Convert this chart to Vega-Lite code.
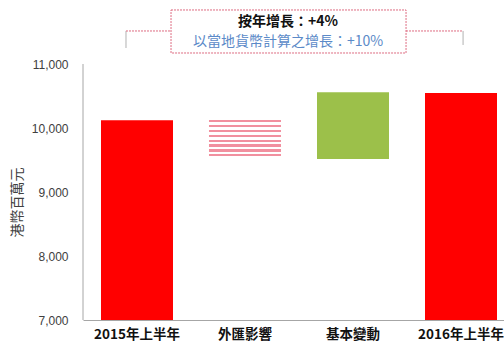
{
  "$schema": "https://vega.github.io/schema/vega-lite/v6.json",
  "width": 421,
  "height": 320,
  "autosize": {"type": "none"},
  "padding": {"left": 83, "top": 0, "right": 0, "bottom": 24},
  "background": "white",
  "config": {"view": {"stroke": null}},
  "layer": [
    {
      "data": {"values": [
        {"cat": "2015年上半年", "v": 10120, "v2": 0, "kind": "total"},
        {"cat": "外匯影響", "v": 10150, "v2": 9515, "kind": "fx"},
        {"cat": "基本變動", "v": 10560, "v2": 9515, "kind": "basic"},
        {"cat": "2016年上半年", "v": 10545, "v2": 0, "kind": "total"}
      ]},
      "encoding": {
        "x": {
          "field": "cat", "type": "nominal",
          "sort": ["2015年上半年", "外匯影響", "基本變動", "2016年上半年"],
          "scale": {"paddingInner": 0.3333, "paddingOuter": 0.1157, "align": 0.72},
          "axis": {
            "title": null, "labelAngle": 0, "ticks": false,
            "labelFont": "Noto Sans CJK TC", "labelFontSize": 13.5, "labelFontWeight": "bold",
            "labelColor": "#111111", "labelPadding": 7,
            "domainColor": "#a6a6a6", "domainWidth": 1
          }
        },
        "y": {
          "field": "v", "type": "quantitative",
          "scale": {"domain": [7000, 12000], "nice": false, "zero": false},
          "axis": {
            "values": [7000, 8000, 9000, 10000, 11000],
            "labelExpr": "format(datum.value, ',')",
            "grid": false, "ticks": false, "domain": false,
            "labelFont": "Liberation Sans", "labelFontSize": 12, "labelColor": "#404040",
            "labelPadding": 15,
            "title": "港幣百萬元", "titleFont": "Noto Sans CJK TC", "titleFontSize": 14,
            "titleFontWeight": "normal", "titleColor": "#404040",
            "titleAngle": -90, "titleX": -66, "titleY": 202,
            "titleAlign": "center", "titleBaseline": "middle"
          }
        },
        "y2": {"field": "v2"}
      },
      "layer": [
        {
          "transform": [{"filter": "datum.kind !== 'fx'"}],
          "mark": {"type": "bar", "clip": true},
          "encoding": {
            "color": {
              "field": "kind", "type": "nominal",
              "scale": {"domain": ["total", "basic"], "range": ["#ff0000", "#9cc04a"]},
              "legend": null
            }
          }
        },
        {
          "transform": [{"filter": "datum.kind === 'fx'"}],
          "mark": {
            "type": "bar", "clip": true,
            "color": {
              "gradient": "linear", "x1": 0, "y1": 0, "x2": 0, "y2": 1,
              "stops": [
                {"offset": 0, "color": "#ffffff"},
                {"offset": 0.04, "color": "#ffffff"},
                {"offset": 0.04, "color": "#f1909f"},
                {"offset": 0.095, "color": "#f1909f"},
                {"offset": 0.095, "color": "#ffffff"},
                {"offset": 0.16, "color": "#ffffff"},
                {"offset": 0.16, "color": "#f1909f"},
                {"offset": 0.215, "color": "#f1909f"},
                {"offset": 0.215, "color": "#ffffff"},
                {"offset": 0.28, "color": "#ffffff"},
                {"offset": 0.28, "color": "#f1909f"},
                {"offset": 0.335, "color": "#f1909f"},
                {"offset": 0.335, "color": "#ffffff"},
                {"offset": 0.40, "color": "#ffffff"},
                {"offset": 0.40, "color": "#f1909f"},
                {"offset": 0.455, "color": "#f1909f"},
                {"offset": 0.455, "color": "#ffffff"},
                {"offset": 0.52, "color": "#ffffff"},
                {"offset": 0.52, "color": "#f1909f"},
                {"offset": 0.575, "color": "#f1909f"},
                {"offset": 0.575, "color": "#ffffff"},
                {"offset": 0.64, "color": "#ffffff"},
                {"offset": 0.64, "color": "#f1909f"},
                {"offset": 0.695, "color": "#f1909f"},
                {"offset": 0.695, "color": "#ffffff"},
                {"offset": 0.76, "color": "#ffffff"},
                {"offset": 0.76, "color": "#f1909f"},
                {"offset": 0.815, "color": "#f1909f"},
                {"offset": 0.815, "color": "#ffffff"},
                {"offset": 0.88, "color": "#ffffff"},
                {"offset": 0.88, "color": "#f1909f"},
                {"offset": 0.935, "color": "#f1909f"},
                {"offset": 0.935, "color": "#ffffff"},
                {"offset": 1, "color": "#ffffff"}
              ]
            }
          }
        }
      ]
    },
    {
      "data": {"values": [
        {"part": "axis", "p": 0, "p2": 0, "v": 7000, "v2": 11000},
        {"part": "bracketL", "p": 0.398, "p2": 0.398, "v": 11516, "v2": 11250},
        {"part": "bracketHL", "p": 0.398, "p2": 0.815, "v": 11516, "v2": 11516},
        {"part": "bracketHR", "p": 2.991, "p2": 3.519, "v": 11516, "v2": 11516},
        {"part": "bracketR", "p": 3.519, "p2": 3.519, "v": 11516, "v2": 11297}
      ]},
      "mark": {"type": "rule", "strokeWidth": 1},
      "encoding": {
        "x": {"field": "p", "type": "quantitative", "scale": {"domain": [0, 3.898], "nice": false, "zero": false}, "axis": null},
        "x2": {"field": "p2"},
        "y": {"field": "v", "type": "quantitative", "scale": {"domain": [7000, 12000], "nice": false, "zero": false}},
        "y2": {"field": "v2"},
        "color": {
          "field": "part", "type": "nominal", "legend": null,
          "scale": {"domain": ["axis", "bracketL", "bracketHL", "bracketHR", "bracketR"],
                    "range": ["#a6a6a6", "#b0b0b0", "#dd6b80", "#dd6b80", "#b0b0b0"]}
        },
        "strokeDash": {
          "field": "part", "type": "nominal", "legend": null,
          "scale": {"domain": ["axis", "bracketL", "bracketHL", "bracketHR", "bracketR"],
                    "range": [[1, 0], [1, 0], [2, 1], [2, 1], [1, 0]]}
        }
      }
    },
    {
      "data": {"values": [{"p": 0.815, "p2": 2.991, "v": 11844, "v2": 11172}]},
      "mark": {"type": "rect", "fill": "white", "fillOpacity": 0, "stroke": "#dd6b80", "strokeWidth": 1, "strokeDash": [2, 1]},
      "encoding": {
        "x": {"field": "p", "type": "quantitative", "scale": {"domain": [0, 3.898], "nice": false, "zero": false}, "axis": null},
        "x2": {"field": "p2"},
        "y": {"field": "v", "type": "quantitative", "scale": {"domain": [7000, 12000], "nice": false, "zero": false}},
        "y2": {"field": "v2"}
      }
    },
    {
      "data": {"values": [
        {"p": 1.898, "v": 11656, "label": "按年增長：+4%"}
      ]},
      "mark": {"type": "text", "font": "Noto Sans CJK TC", "fontSize": 14, "fontWeight": "bold", "align": "center", "baseline": "middle", "color": "#111111"},
      "encoding": {
        "x": {"field": "p", "type": "quantitative", "scale": {"domain": [0, 3.898], "nice": false, "zero": false}, "axis": null},
        "y": {"field": "v", "type": "quantitative", "scale": {"domain": [7000, 12000], "nice": false, "zero": false}},
        "text": {"field": "label"}
      }
    },
    {
      "data": {"values": [
        {"p": 1.898, "v": 11344, "label": "以當地貨幣計算之增長：+10%"}
      ]},
      "mark": {"type": "text", "font": "Noto Sans CJK TC", "fontSize": 14, "fontWeight": "normal", "align": "center", "baseline": "middle", "color": "#5b8ac8"},
      "encoding": {
        "x": {"field": "p", "type": "quantitative", "scale": {"domain": [0, 3.898], "nice": false, "zero": false}, "axis": null},
        "y": {"field": "v", "type": "quantitative", "scale": {"domain": [7000, 12000], "nice": false, "zero": false}},
        "text": {"field": "label"}
      }
    }
  ],
  "resolve": {"scale": {"x": "independent", "color": "independent", "strokeDash": "independent"}, "axis": {"x": "independent"}}
}
